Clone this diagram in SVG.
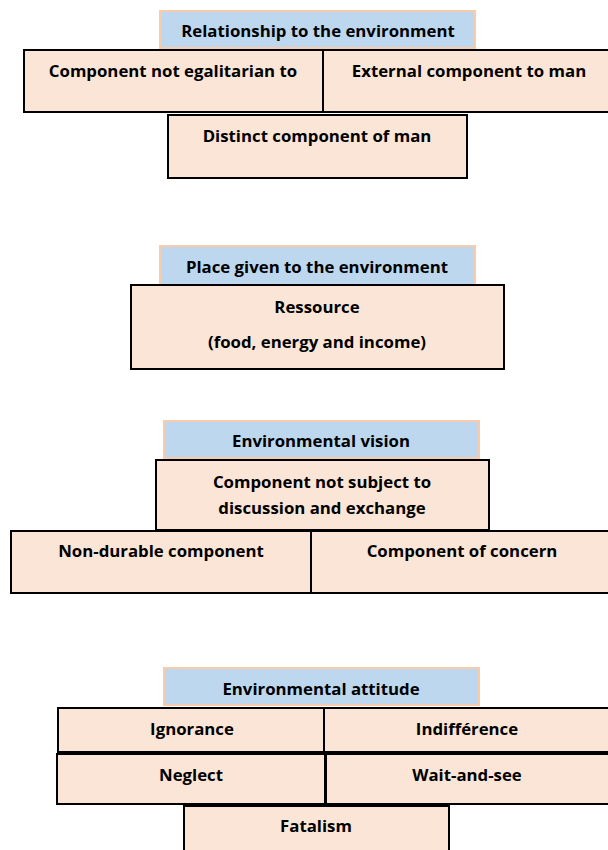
<svg xmlns="http://www.w3.org/2000/svg" width="608" height="850" viewBox="0 0 608 850">
<style>
.hd{fill:#bdd7ee;stroke:#f8cbad;stroke-width:2}
.bx{fill:#fbe5d6;stroke:#000;stroke-width:2}
text{font-family:"Open Sans","Liberation Sans",sans-serif;font-weight:bold;font-size:16.8px;fill:#000;text-anchor:middle}
</style>
<rect width="608" height="850" fill="#fff"/>
<g id="s1-header"><rect class="hd" x="160" y="11" width="315" height="37"/><text x="318" y="37">Relationship to the environment</text></g>
<g id="s1-a"><rect class="bx" x="24" y="50" width="299" height="62"/><text x="173" y="77">Component not egalitarian to</text></g>
<g id="s1-b"><rect class="bx" x="323" y="50" width="290" height="62"/><text x="469" y="77">External component to man</text></g>
<g id="s1-c"><rect class="bx" x="168" y="115" width="299" height="63"/><text x="317" y="142">Distinct component of man</text></g>

<g id="s2-header"><rect class="hd" x="160" y="246" width="315" height="39"/><text x="317" y="273">Place given to the environment</text></g>
<g id="s2-a"><rect class="bx" x="131" y="285" width="373" height="84"/><text x="317" y="313">Ressource</text><text x="317" y="348">(food, energy and income)</text></g>

<g id="s3-header"><rect class="hd" x="164" y="421" width="315" height="37"/><text x="321" y="447">Environmental vision</text></g>
<g id="s3-a"><rect class="bx" x="156" y="460" width="333" height="70"/><text x="322" y="488">Component not subject to</text><text x="322" y="514">discussion and exchange</text></g>
<g id="s3-b"><rect class="bx" x="11" y="531" width="300" height="62"/><text x="161" y="557">Non-durable component</text></g>
<g id="s3-c"><rect class="bx" x="311" y="531" width="302" height="62"/><text x="462" y="557">Component of concern</text></g>

<g id="s4-header"><rect class="hd" x="164" y="668" width="315" height="37"/><text x="321" y="695">Environmental attitude</text></g>
<g id="s4-a"><rect class="bx" x="58" y="708" width="266" height="44"/><text x="192" y="735">Ignorance</text></g>
<g id="s4-b"><rect class="bx" x="324" y="708" width="289" height="44"/><text x="467" y="735">Indifférence</text></g>
<g id="s4-c"><rect class="bx" x="57" y="754" width="268" height="50"/><text x="191" y="781">Neglect</text></g>
<g id="s4-d"><rect class="bx" x="326" y="754" width="287" height="50"/><text x="467" y="781">Wait-and-see</text></g>
<g id="s4-e"><rect class="bx" x="184" y="806" width="265" height="50"/><text x="316" y="832">Fatalism</text></g>
<g id="connectors"></g>
</svg>
